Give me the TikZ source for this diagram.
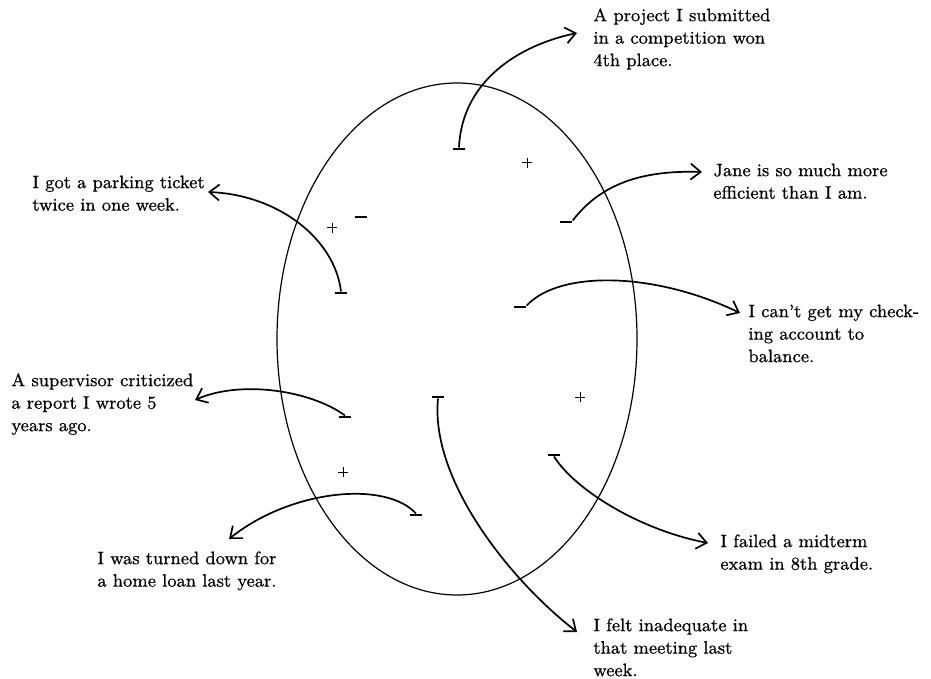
\documentclass[tikz,border=0pt]{standalone}
\usepackage{fontspec}
\usetikzlibrary{arrows.meta,shapes.geometric}
\newfontfamily\statementfont{Latin Modern Roman}[Ligatures=TeX, FakeBold=0.6]

\begin{document}
\begin{tikzpicture}[
  x=0.5pt, y=-0.5pt,
  self/.style={draw, ellipse, line width=0.6pt, inner sep=0pt,
    minimum width=180pt, minimum height=256pt},
  minus/.style={fill=black, inner sep=0pt, minimum width=6.3pt, minimum height=1.1pt},
  plus/.style={inner sep=0pt, minimum size=5pt,
    path picture={\draw[line width=0.5pt]
      (path picture bounding box.north) -- (path picture bounding box.south)
      (path picture bounding box.west) -- (path picture bounding box.east);}},
  label/.style={anchor=north west, align=left, inner sep=0pt,
    font=\statementfont\fontsize{9}{11.25}\selectfont},
  link/.style={line width=0.85pt,
    -{Straight Barb[length=5pt, width=8pt, line width=0.85pt]}},
]
\useasboundingbox (0,0) rectangle (931,679);

% the self-image
\node[self] (ring) at (457,339) {};

% negative marks
\node[minus] (mproj)  at (459,149) {};
\node[minus] (mjane)  at (566,222) {};
\node[minus] (mcheck) at (520,307) {};
\node[minus] (mpark)  at (341,293) {};
\node[minus] (mlone)  at (361,217) {};
\node[minus] (msup)   at (345,417) {};
\node[minus] (mloan)  at (416,515) {};
\node[minus] (mfelt)  at (438,397) {};
\node[minus] (mmid)   at (554,455) {};

% positive marks
\node[plus] (p1) at (527,163) {};
\node[plus] (p2) at (332,228) {};
\node[plus] (p3) at (580,397) {};
\node[plus] (p4) at (343,472) {};

% statements
\node[label] (tproj)  at (593,5)   {\strut A project I submitted\\in a competition won\\4th place.};
\node[label] (tjane)  at (713,160) {\strut Jane is so much more\\efficient than I am.};
\node[label] (tcheck) at (748,301) {\strut I can’t get my check-\\ing account to\\balance.};
\node[label] (tpark)  at (32,172)  {\strut I got a parking ticket\\twice in one week.};
\node[label] (tsup)   at (11,370)  {\strut A supervisor criticized\\a report I wrote 5\\years ago.};
\node[label] (tloan)  at (97,548)  {\strut I was turned down for\\a home loan last year.};
\node[label] (tfelt)  at (593,615) {\strut I felt inadequate in\\that meeting last\\week.};
\node[label] (tmid)   at (720,531) {\strut I failed a midterm\\exam in 8th grade.};

% arrow ends beside the statements
\coordinate (eproj)  at (577,33);
\coordinate (ejane)  at (702,172);
\coordinate (echeck) at (740,313);
\coordinate (epark)  at (208,192);
\coordinate (esup)   at (195,400);
\coordinate (eloan)  at (229,539);
\coordinate (efelt)  at (577,632);
\coordinate (emid)   at (708,543);

% connectors
\draw[link] (mproj.north)  .. controls (462,80)  and (520,45)  .. (eproj);
\draw[link] (mjane.north east) .. controls (600,185) and (640,170) .. (ejane);
\draw[link] (mcheck.north east) .. controls (560,270) and (655,272) .. (echeck);
\draw[link] (mpark.north)  .. controls (335,240) and (280,195) .. (epark);
\draw[link] (msup.north)   .. controls (310,390) and (240,380) .. (esup);
\draw[link] (mloan.north)  .. controls (385,480) and (290,490) .. (eloan);
\draw[link] (mfelt.south)  .. controls (430,480) and (510,580) .. (efelt);
\draw[link] (mmid.south)   .. controls (575,490) and (640,530) .. (emid);
\end{tikzpicture}
\end{document}
